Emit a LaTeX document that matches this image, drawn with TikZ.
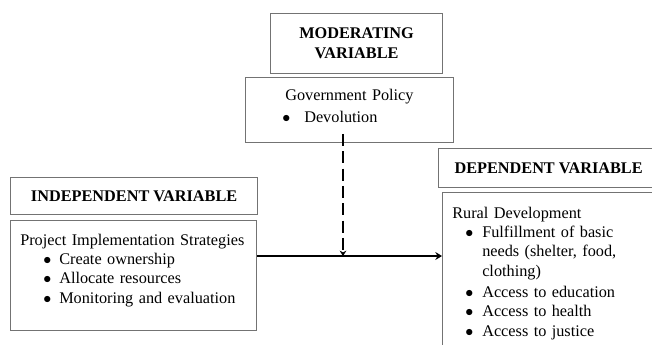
\documentclass[tikz,border=0pt]{standalone}
\usepackage{fontspec}
\setmainfont{Liberation Serif}
\usepackage{tikz}
\usetikzlibrary{arrows.meta,positioning,calc}

% bullet line: indent, gap to text, text
\newcommand{\vitem}[3]{\hspace*{#1}\makebox[#2][l]{$\bullet$}#3}

\begin{document}
\begin{tikzpicture}[
    x=0.75pt, y=-0.75pt,
    % --- STYLES ---
    header/.style={
        rectangle, draw=black!55, line width=0.9pt,
        anchor=north west, align=center, inner sep=0pt,
        font=\bfseries\fontsize{12.2}{15}\selectfont
    },
    panel/.style={
        rectangle, draw=black!55, line width=0.9pt,
        anchor=north west, inner sep=0pt
    },
    txt/.style={
        anchor=base west, align=left, inner sep=0pt,
        text width=170pt,
        font=\fontsize{12.2}{14.6}\selectfont
    },
    link/.style={-{Stealth[length=5pt,width=6pt]}, line width=2pt},
    modlink/.style={-{Stealth[length=4pt,width=5pt]}, line width=1.9pt,
        dash pattern=on 9pt off 4pt}
]

% fix the frame
\useasboundingbox (0,0) rectangle (652,344);
\clip (0,0) rectangle (652,344);

% ===== 1. MODERATING VARIABLE =====
\node[header, minimum width=129pt, minimum height=45pt] (hdrMod) at (270,13) {MODERATING\\ VARIABLE};
\node[panel, minimum width=156pt, minimum height=48.75pt] (mod) at (245,77) {};
\node[txt] (modTxt) at ([shift={(40,23)}]mod.north west)
    {Government Policy\\[2pt]
     \vitem{-2.25pt}{16.5pt}{Devolution}};

% ===== 2. INDEPENDENT VARIABLE =====
\node[header, minimum width=185.25pt, minimum height=27.75pt] (hdrInd) at (10,177) {INDEPENDENT VARIABLE};
\node[panel, minimum width=184.5pt, minimum height=82.5pt] (ind) at (10,220) {};
\node[txt] (indTxt) at ([shift={(10,25)}]ind.north west)
    {Project Implementation Strategies\\
     \vitem{17.25pt}{12pt}{Create ownership}\\
     \vitem{17.25pt}{12pt}{Allocate resources}\\
     \vitem{17.25pt}{12pt}{Monitoring and evaluation}};

% ===== 3. DEPENDENT VARIABLE =====
\node[header, minimum width=165pt, minimum height=29.25pt] (hdrDep) at (438,148) {DEPENDENT VARIABLE};
\node[panel, minimum width=165pt, minimum height=127.5pt] (dep) at (442,192) {};
\node[txt] (depTxt) at ([shift={(10,26)}]dep.north west)
    {Rural Development\\
     \vitem{9.75pt}{12.75pt}{Fulfillment of basic}\\
     \hspace*{22.5pt}needs (shelter, food,\\
     \hspace*{22.5pt}clothing)\\[1pt]
     \vitem{9.75pt}{12.75pt}{Access to education}\\
     \vitem{9.75pt}{12.75pt}{Access to health}\\
     \vitem{9.75pt}{12.75pt}{Access to justice}};

% ===== 4. CONNECTIONS =====
\coordinate (junction) at (343,256);

% independent -> dependent
\draw[link] (junction -| ind.east) -- (junction -| dep.west);

% moderating effect (dashed)
\draw[modlink] ([yshift=7pt]mod.south -| junction) -- (junction);

\end{tikzpicture}
\end{document}
